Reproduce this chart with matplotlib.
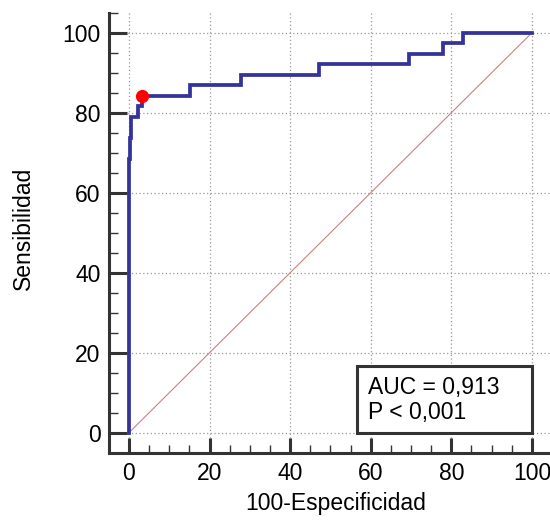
import numpy as np
import matplotlib
matplotlib.use("Agg")
import matplotlib.pyplot as plt
from matplotlib.ticker import MultipleLocator

plt.rcParams['font.family'] = ['Liberation Sans', 'DejaVu Sans']

# ROC curve vertices (100-Especificidad, Sensibilidad)
roc_x = [0, 0, 0.3, 0.3, 0.6, 0.6, 2.2, 2.2, 3.3, 3.3, 15.2, 15.2, 27.8, 27.8,
         47.2, 47.2, 69.5, 69.5, 78.0, 78.0, 82.9, 82.9, 100]
roc_y = [0, 68.42, 68.42, 73.68, 73.68, 78.95, 78.95, 81.58, 81.58, 84.21, 84.21,
         86.84, 86.84, 89.47, 89.47, 92.11, 92.11, 94.74, 94.74, 97.37, 97.37, 100, 100]

# optimal criterion point
crit_x = [3.3]
crit_y = [84.21]

auc_text = "AUC = 0,913\nP < 0,001"
xlabel = "100-Especificidad"
ylabel = "Sensibilidad"
ticks = [0, 20, 40, 60, 80, 100]

fs = 16.5

fig = plt.figure(figsize=(5.5, 5.2), dpi=100)
ax = fig.add_axes([0.1978, 0.1294, 0.803, 0.846])

ax.set_xlim(-5, 104.6)
ax.set_ylim(-5, 105)

ax.grid(True, which='major', linestyle=(0, (1, 2)), color='#999999', linewidth=0.9)
ax.set_axisbelow(True)

# reference diagonal
ax.plot([0, 100], [0, 100], color='#cc8080', linewidth=0.8, zorder=2)

ax.plot(roc_x, roc_y, color='#333399', linewidth=2.7, solid_joinstyle='miter', zorder=3)
ax.plot(crit_x, crit_y, 'o', color='#ff0000', markersize=9.5, markeredgewidth=0, zorder=4)

for s in ['top', 'right']:
    ax.spines[s].set_visible(False)
for s in ['left', 'bottom']:
    ax.spines[s].set_linewidth(2.2)
    ax.spines[s].set_color('#333333')

ax.set_xticks(ticks)
ax.set_yticks(ticks)
ax.xaxis.set_minor_locator(MultipleLocator(5))
ax.yaxis.set_minor_locator(MultipleLocator(5))
ax.tick_params(axis='x', which='major', direction='in', length=11, width=2.2,
               color='#333333', labelsize=fs, pad=7)
ax.tick_params(axis='x', which='minor', direction='in', length=6, width=1,
               color='#333333')
ax.tick_params(axis='y', which='major', direction='in', length=13, width=2.2,
               color='#333333', labelsize=fs, pad=6)
ax.tick_params(axis='y', which='minor', direction='in', length=6.5, width=1,
               color='#333333')

ax.set_xlabel(xlabel, fontsize=fs)
ax.set_ylabel(ylabel, fontsize=fs)
ax.xaxis.set_label_coords(0.514, -0.090)
ax.yaxis.set_label_coords(-0.167, 0.511)

ax.text(59.3, 8.2, auc_text, fontsize=fs, ha='left', va='center', linespacing=1.1,
        zorder=6)
box = plt.Rectangle((56.5, 0), 43.5, 16.7, facecolor='white', edgecolor='#333333',
                    linewidth=2.2, zorder=5)
ax.add_patch(box)

fig.savefig("out.png", dpi=100)
